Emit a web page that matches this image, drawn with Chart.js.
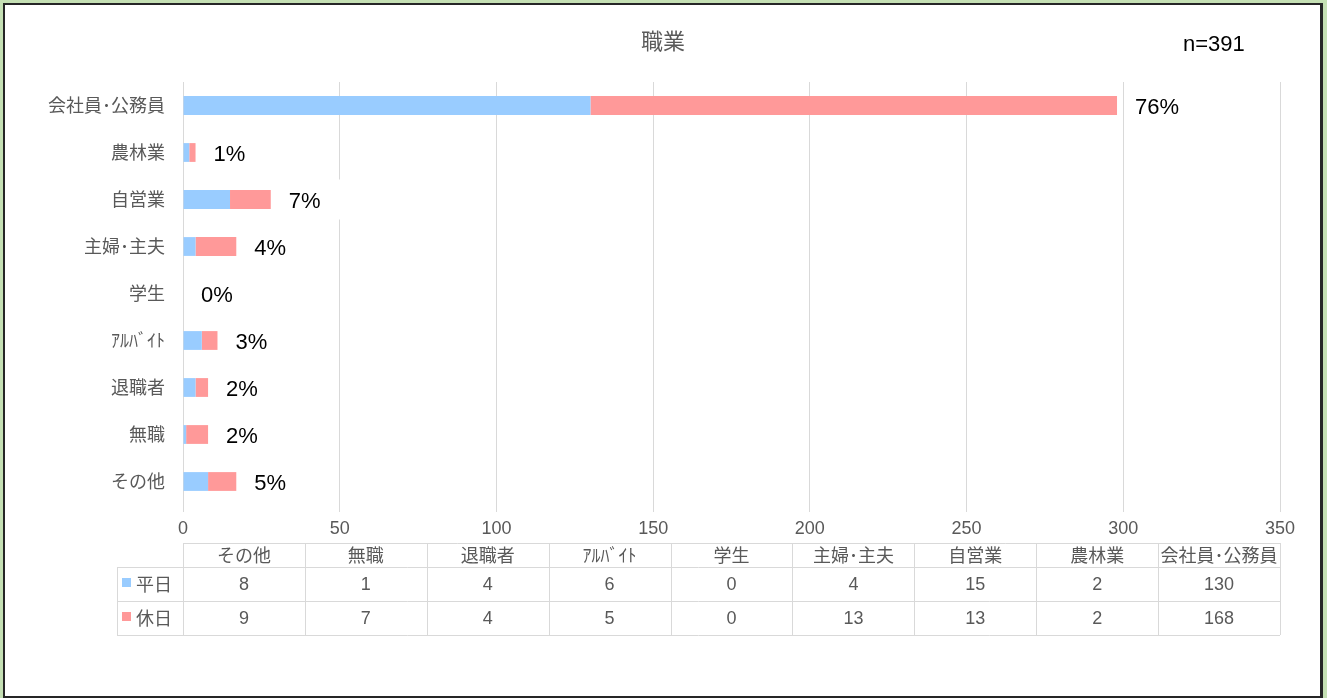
<!DOCTYPE html>
<html>
<head>
<meta charset="utf-8">
<script src="https://cdn.jsdelivr.net/npm/chart.js@4/dist/chart.umd.min.js"></script>
<style>
html,body{margin:0;padding:0;background:#c5e0b4;overflow:hidden;}
canvas{display:block;}
</style>
</head>
<body>
<canvas id="c" width="1327" height="698"></canvas>
<script>
const chartTitle = '職業';
const sampleNote = 'n=391';
const categories = ['会社員･公務員','農林業','自営業','主婦･主夫','学生','ｱﾙﾊﾞｲﾄ','退職者','無職','その他'];
const seriesNames = ['平日','休日'];
const weekday = [130,2,15,4,0,6,4,1,8];
const holiday = [168,2,13,13,0,5,4,7,9];
const percentLabels = ['76%','1%','7%','4%','0%','3%','2%','2%','5%'];
const xMax = 350;
const xStep = 50;

const BLUE = '#99ccff';
const PINK = '#ff9999';
const GRAY_TEXT = '#595959';
const GRID = '#d9d9d9';
const CJK = '"Noto Sans CJK JP","Noto Sans",sans-serif';
const LAT = '"Liberation Sans",Arial,sans-serif';

const frame = {
  id:'frame',
  beforeDraw(chart){
    const ctx = chart.ctx;
    ctx.save();
    ctx.fillStyle = '#c5e0b4';
    ctx.fillRect(0,0,chart.width,chart.height);
    ctx.fillStyle = '#262626';
    ctx.fillRect(3,3,1320,695);
    ctx.fillStyle = '#ffffff';
    ctx.fillRect(5,5,1315,691);
    ctx.restore();
  }
};

const texts = {
  id:'texts',
  afterDraw(chart){
    const ctx = chart.ctx;
    ctx.save();
    ctx.textBaseline = 'middle';
    ctx.textAlign = 'center';
    ctx.fillStyle = GRAY_TEXT;
    ctx.font = '22px ' + CJK;
    ctx.fillText(chartTitle, 663, 41);
    ctx.fillStyle = '#000';
    ctx.font = '22px ' + LAT;
    ctx.textAlign = 'left';
    ctx.fillText(sampleNote, 1183, 45);
    ctx.restore();
  }
};

const pctLabels = {
  id:'pctLabels',
  afterDatasetsDraw(chart){
    const ctx = chart.ctx;
    const xs = chart.scales.x, ys = chart.scales.y;
    ctx.save();
    ctx.font = '22px ' + LAT;
    ctx.textBaseline = 'middle';
    ctx.textAlign = 'left';
    categories.forEach((c,i)=>{
      const end = xs.getPixelForValue(weekday[i] + holiday[i]);
      const y = ys.getPixelForValue(i);
      const tx = end + 18;
      const w = ctx.measureText(percentLabels[i]).width;
      ctx.fillStyle = '#fff';
      ctx.fillRect(tx - 5, y - 20, w + 30, 40);
      ctx.fillStyle = '#000';
      ctx.fillText(percentLabels[i], tx, y + 2);
    });
    ctx.restore();
  }
};

const dataTable = {
  id:'dataTable',
  afterDraw(chart){
    const ctx = chart.ctx;
    const a = chart.chartArea;
    const n = categories.length;
    const colW = (a.right - a.left) / n;
    const top = 543, hdrB = 567, r1B = 601, r2B = 635, legL = 117;
    const order = categories.map((_,i)=>n-1-i);
    ctx.save();
    ctx.strokeStyle = GRID;
    ctx.lineWidth = 1;
    ctx.beginPath();
    ctx.moveTo(a.left, top+0.5); ctx.lineTo(a.right, top+0.5);
    [hdrB, r1B, r2B].forEach(y=>{ ctx.moveTo(legL, y+0.5); ctx.lineTo(a.right, y+0.5); });
    ctx.moveTo(legL+0.5, hdrB); ctx.lineTo(legL+0.5, r2B);
    for (let k=0;k<=n;k++){
      const x = Math.round(a.left + k*colW) + 0.5;
      ctx.moveTo(x, top); ctx.lineTo(x, r2B);
    }
    ctx.stroke();

    ctx.textAlign = 'center';
    ctx.textBaseline = 'middle';
    ctx.fillStyle = GRAY_TEXT;
    order.forEach((ci,k)=>{
      const cx = a.left + (k+0.5)*colW;
      ctx.font = '18px ' + CJK;
      ctx.fillText(categories[ci], cx, (top+hdrB)/2);
      ctx.font = '18px ' + LAT;
      ctx.fillText(String(weekday[ci]), cx, (hdrB+r1B)/2 + 1);
      ctx.fillText(String(holiday[ci]), cx, (r1B+r2B)/2 + 1);
    });
    const rows = [[seriesNames[0], BLUE, (hdrB+r1B)/2],[seriesNames[1], PINK, (r1B+r2B)/2]];
    rows.forEach(([name,col,y])=>{
      ctx.fillStyle = col;
      ctx.fillRect(122, Math.round(y-6), 9, 9);
      ctx.fillStyle = GRAY_TEXT;
      ctx.font = '18px ' + CJK;
      ctx.textAlign = 'left';
      ctx.fillText(name, 136, y);
    });
    ctx.restore();
  }
};

new Chart(document.getElementById('c'), {
  type:'bar',
  data:{
    labels: categories,
    datasets:[
      {label: seriesNames[0], data: weekday, backgroundColor: BLUE, borderWidth:0},
      {label: seriesNames[1], data: holiday, backgroundColor: PINK, borderWidth:0}
    ]
  },
  options:{
    indexAxis:'y',
    responsive:false,
    animation:false,
    layout:{padding:{left:0,right:47,top:82,bottom:163}},
    datasets:{bar:{barPercentage:0.4, categoryPercentage:1}},
    plugins:{legend:{display:false}, tooltip:{enabled:false}, title:{display:false}},
    scales:{
      x:{
        stacked:true, min:0, max:xMax,
        afterFit(s){ s.height = 30; },
        ticks:{stepSize:xStep, color:GRAY_TEXT, font:{family:LAT, size:18}, padding:6},
        grid:{color:GRID, tickLength:7, drawTicks:true},
        border:{display:false}
      },
      y:{
        stacked:true,
        afterFit(s){ s.width = 183; },
        ticks:{color:GRAY_TEXT, font:{family:CJK, size:18}, padding:18},
        grid:{display:false, drawTicks:false},
        border:{display:false}
      }
    }
  },
  plugins:[frame, pctLabels, dataTable, texts]
});
</script>
</body>
</html>
